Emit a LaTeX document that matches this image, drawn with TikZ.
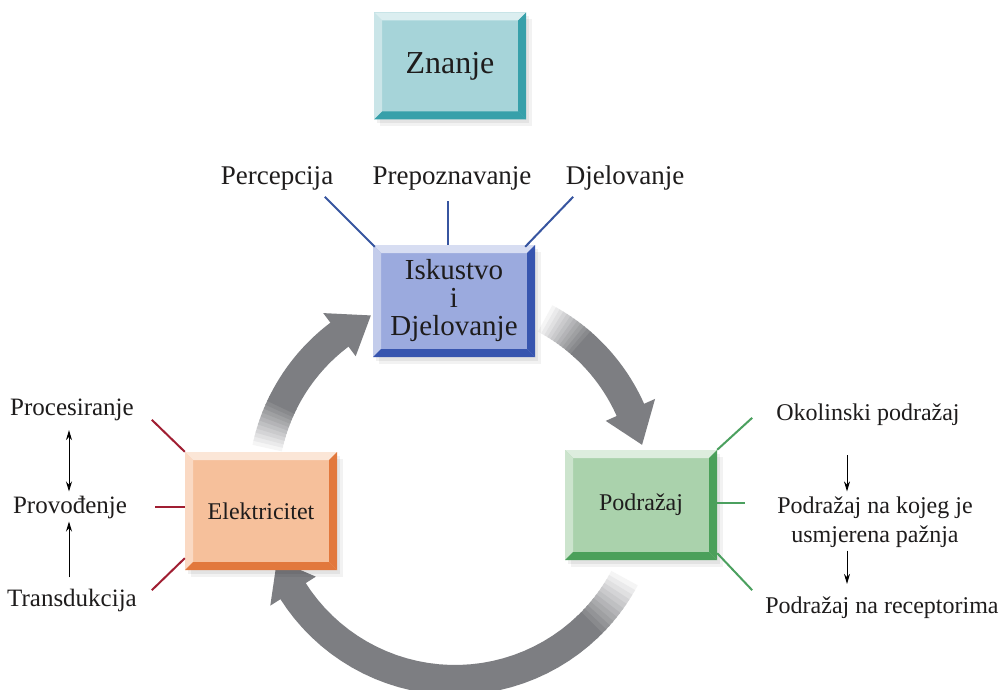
\documentclass[tikz,border=0pt]{standalone}
\usepackage{fontspec}
\setmainfont{Liberation Serif}
\usetikzlibrary{arrows.meta, positioning, calc}

\definecolor{textdark}{RGB}{30,28,28}
\definecolor{zncol}{RGB}{166,212,217}
\definecolor{zndark}{RGB}{55,160,170}
\definecolor{iskcol}{RGB}{155,170,222}
\definecolor{iskdark}{RGB}{55,85,175}
\definecolor{elkcol}{RGB}{246,192,155}
\definecolor{elkdark}{RGB}{226,120,60}
\definecolor{podcol}{RGB}{170,210,172}
\definecolor{poddark}{RGB}{75,160,90}
\definecolor{blueline}{RGB}{55,85,160}
\definecolor{redline}{RGB}{160,30,50}
\definecolor{greenline}{RGB}{75,160,95}
\definecolor{arrowgray}{RGB}{125,126,130}

\tikzset{
  bevelbox/.style 2 args={fill=#1, inner sep=0pt, align=center, text=textdark,
    preaction={fill=black, opacity=.06, transform canvas={xshift=3pt,yshift=-4pt}},
    preaction={fill=black, opacity=.05, transform canvas={xshift=6pt,yshift=-7pt}},
    path picture={
      \fill[#1!40!white] (path picture bounding box.north west) -- (path picture bounding box.north east)
        -- ([xshift=-8pt,yshift=-8pt]path picture bounding box.north east) -- ([xshift=8pt,yshift=-8pt]path picture bounding box.north west) -- cycle;
      \fill[#1!60!white] (path picture bounding box.north west) -- ([xshift=8pt,yshift=-8pt]path picture bounding box.north west)
        -- ([xshift=8pt,yshift=8pt]path picture bounding box.south west) -- (path picture bounding box.south west) -- cycle;
      \fill[#2] (path picture bounding box.north east) -- (path picture bounding box.south east)
        -- ([xshift=-8pt,yshift=8pt]path picture bounding box.south east) -- ([xshift=-8pt,yshift=-8pt]path picture bounding box.north east) -- cycle;
      \fill[#2] (path picture bounding box.south west) -- (path picture bounding box.south east)
        -- ([xshift=-8pt,yshift=8pt]path picture bounding box.south east) -- ([xshift=8pt,yshift=8pt]path picture bounding box.south west) -- cycle;
    }},
  lab/.style={font=\fontsize{25}{29}\selectfont, text=textdark, inner sep=2pt, align=center},
  thinarrow/.style={line width=0.9pt, black, -{Stealth[length=10pt,width=6pt]}},
}

% one gray arc arrow of the cycle: fade start, fade end, head base, tip (angles)
\newcommand\grayarc[4]{%
  \foreach \k in {0,...,11}{
    \pgfmathsetmacro\ka{#1+(#2-#1)*\k/12}
    \pgfmathsetmacro\kb{#1+(#2-#1)*(\k+1.4)/12}
    \pgfmathtruncatemacro\kc{8+\k*92/11}
    \draw[line width=30pt, arrowgray!\kc!white] plot[domain=\ka:\kb, samples=3] (\x:192);
  }
  \draw[line width=30pt, arrowgray] plot[domain=#2:#3+0.5, samples=30] (\x:192);
  \fill[arrowgray] (#3:165) -- (#4:192) -- (#3:219) -- cycle;
}

\begin{document}
\begin{tikzpicture}[x=1pt, y=-1pt]
\useasboundingbox (0,0) rectangle (1005,690);
\fill[white] (0,0) rectangle (1005,690);

% cycle arrows
\coordinate (cyc) at (455,488);
\begin{scope}[shift={(cyc)}]
  \grayarc{192}{206}{233}{244}
  \grayarc{298}{312}{336}{347}
  \grayarc{28}{46}{147.5}{158}
\end{scope}

% boxes
\node[bevelbox={zncol}{zndark}, minimum width=152pt, minimum height=107pt,
  font=\fontsize{32}{34}\selectfont] (znanje) at (450,66) {Znanje};
\node[bevelbox={iskcol}{iskdark}, minimum width=162pt, minimum height=112pt,
  font=\fontsize{29}{28}\selectfont] (isk) at (454,301) {Iskustvo\\i\\Djelovanje};
\node[bevelbox={elkcol}{elkdark}, minimum width=152pt, minimum height=118pt,
  font=\fontsize{24}{28}\selectfont] (elk) at (261,511) {Elektricitet};
\node[bevelbox={podcol}{poddark}, minimum width=152pt, minimum height=110pt,
  font=\fontsize{24}{28}\selectfont] (pod) at (641,505) {Podražaj};

% top labels
\node[lab, font=\fontsize{27}{30}\selectfont] (perc) at (277,178) {Percepcija};
\node[lab, font=\fontsize{27}{30}\selectfont] (prep) at (452,178) {Prepoznavanje};
\node[lab, font=\fontsize{27}{30}\selectfont] (djel) at (625,178) {Djelovanje};
\draw[blueline, line width=2pt] ([xshift=2pt,yshift=-2pt]isk.north west) -- +(-50,-50);
\draw[blueline, line width=2pt] ([xshift=-6pt]isk.north) -- +(0,-44);
\draw[blueline, line width=2pt] ([xshift=-10pt,yshift=-2pt]isk.north east) -- +(48,-50);

% left labels
\node[lab] (proc) at (72,410) {Procesiranje};
\node[lab] (prov) at (70,507) {Provođenje};
\node[lab] (trans) at (72,600) {Transdukcija};
\coordinate (lx) at (69,0);
\draw[thinarrow, {Stealth[length=10pt,width=6pt]}-{Stealth[length=10pt,width=6pt]}, shorten <=7pt, shorten >=2pt] (proc.south -| lx) -- (prov.north -| lx);
\draw[thinarrow, shorten <=9pt, shorten >=1pt] (trans.north -| lx) -- (prov.south -| lx);
\draw[redline, line width=2pt] (elk.north west) -- +(-33,-32);
\draw[redline, line width=2pt] ([yshift=4pt]elk.west) -- +(-30,0);
\draw[redline, line width=2pt] ([yshift=12pt]elk.south west) -- +(-33,32);

% right labels
\node[lab, font=\fontsize{24}{29}\selectfont] (okol) at (868,415) {Okolinski podražaj};
\node[lab, font=\fontsize{24}{29}\selectfont] (pazn) at (875,522) {Podražaj na kojeg je\\usmjerena pažnja};
\node[lab, font=\fontsize{24}{29}\selectfont] (recep) at (882,608) {Podražaj na receptorima};
\coordinate (rx) at (847,0);
\draw[thinarrow, shorten <=27pt, shorten >=3pt] (okol.south -| rx) -- (pazn.north -| rx);
\draw[thinarrow, shorten <=1pt, shorten >=11pt] (pazn.south -| rx) -- (recep.north -| rx);
\draw[greenline, line width=2pt] (pod.north east) -- +(35,-32);
\draw[greenline, line width=2pt] ([yshift=2pt]pod.east) -- +(28,0);
\draw[greenline, line width=2pt] ([yshift=7pt]pod.south east) -- +(35,37);
\end{tikzpicture}
\end{document}
